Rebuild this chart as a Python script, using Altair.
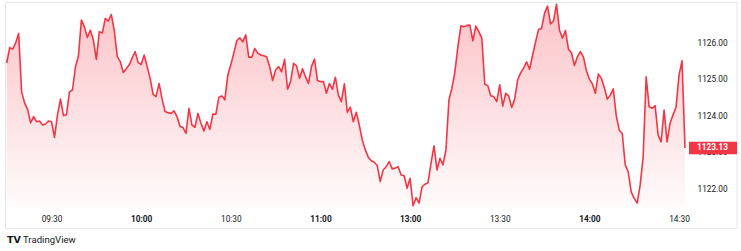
import altair as alt
import pandas as pd

# One-minute closes (09:15 .. 14:32, lunch break skipped)
prices = [
    1125.46, 1125.88, 1125.84, 1126.01, 1126.27, 1124.67, 1124.36, 1124.19, 1123.82, 1123.99,
    1123.85, 1123.87, 1123.76, 1123.79, 1123.87, 1123.85, 1123.42, 1124.04, 1124.47, 1124.02,
    1124.04, 1124.67, 1124.72, 1125.35, 1125.65, 1126.64, 1126.45, 1126.16, 1126.36, 1126.09,
    1125.56, 1126.32, 1126.28, 1126.68, 1126.61, 1126.79, 1126.35, 1125.64, 1125.50, 1125.20,
    1125.30, 1125.41, 1125.60, 1125.77, 1125.47, 1125.42, 1125.68, 1125.36, 1125.04, 1124.60,
    1124.54, 1124.90, 1124.47, 1124.13, 1124.10, 1124.08, 1124.15, 1123.99, 1123.72, 1123.69,
    1123.53, 1124.22, 1123.76, 1123.70, 1124.08, 1123.81, 1123.60, 1123.85, 1123.64, 1124.06,
    1124.06, 1124.52, 1124.56, 1124.45, 1125.13, 1125.41, 1125.73, 1126.07, 1126.15, 1126.04,
    1126.23, 1125.62, 1125.62, 1125.86, 1125.73, 1125.68, 1125.66, 1125.63, 1125.36, 1124.98,
    1125.27, 1125.36, 1125.22, 1125.56, 1124.74, 1124.95, 1125.45, 1125.38, 1125.04, 1125.30,
    1125.08, 1124.90, 1125.36, 1125.57, 1124.98, 1124.95, 1124.95, 1124.63, 1124.90, 1124.74,
    1125.07, 1124.58, 1124.40, 1124.89, 1124.11, 1124.25, 1123.85, 1124.11, 1123.76, 1123.35,
    1123.08, 1122.88, 1122.78, 1122.74, 1122.65, 1122.21, 1122.53, 1122.62, 1122.76, 1122.56,
    1122.58, 1122.62, 1122.39, 1122.37, 1122.03, 1122.30, 1121.55, 1121.77, 1121.62, 1122.07,
    1122.14, 1122.18, 1122.71, 1123.19, 1122.53, 1122.85, 1122.67, 1123.08, 1124.45, 1124.77,
    1125.22, 1125.91, 1126.48, 1126.45, 1126.49, 1126.50, 1126.07, 1126.47, 1126.32, 1126.14,
    1124.88, 1124.84, 1124.56, 1124.54, 1124.40, 1124.86, 1124.28, 1124.63, 1124.56, 1124.24,
    1124.47, 1125.00, 1125.19, 1125.32, 1125.49, 1125.29, 1125.68, 1126.04, 1126.38, 1126.41,
    1126.82, 1127.02, 1126.53, 1126.61, 1127.07, 1126.36, 1126.14, 1126.35, 1125.84, 1125.74,
    1125.39, 1125.63, 1125.77, 1125.63, 1125.25, 1125.02, 1124.89, 1124.63, 1125.16, 1125.04,
    1124.78, 1124.47, 1124.58, 1124.75, 1124.01, 1123.62, 1123.53, 1122.67, 1122.48, 1121.93,
    1121.75, 1121.62, 1122.12, 1122.89, 1125.08, 1124.26, 1124.22, 1124.29, 1123.49, 1123.30,
    1124.17, 1123.30, 1123.81, 1124.04, 1124.25, 1125.13, 1125.52, 1123.13,
]

tick_idx = [15, 45, 75, 105, 135, 165, 195, 225]
tick_labels = ["09:30", "10:00", "10:30", "11:00", "13:00", "13:30", "14:00", "14:30"]
bold_idx = [45, 105, 135, 195]
price_ticks = [1122, 1123, 1124, 1125, 1126]
last_price = 1123.13
last_label = "1123.13"
brand = "TradingView"

df = pd.DataFrame({"idx": list(range(len(prices))), "price": prices})

W, H = 680, 204
x_dom = [-0.234, 227.335]
y_dom = [1121.515, 1127.104]
RED = "#F23645"
TXT = "#131722"
FONT = "Roboto"

xs = alt.Scale(domain=x_dom, nice=False, zero=False)
ys = alt.Scale(domain=y_dom, nice=False, zero=False)

label_expr = ("[" + ",".join(f"'{t}'" for t in tick_labels) + "][indexof(["
              + ",".join(str(v) for v in tick_idx) + "], datum.value)]")
bold_test = "indexof([" + ",".join(str(v) for v in bold_idx) + "], datum.value) >= 0"

x_axis = alt.Axis(values=tick_idx, labelExpr=label_expr, grid=False, ticks=False,
                  domain=False, labelPadding=7, labelFontSize=8.3, labelColor=TXT,
                  labelFont=FONT, labelFlush=False, labelOverlap=False, title=None,
                  labelFontWeight={"condition": {"test": bold_test, "value": "bold"},
                                   "value": "normal"})
y_axis = alt.Axis(orient="right", values=price_ticks, format=".2f", grid=False,
                  ticks=False, domain=False, labelPadding=11, labelFontSize=8.3,
                  labelColor=TXT, labelFont=FONT, title=None)

gradient = alt.Gradient(
    gradient="linear",
    stops=[alt.GradientStop(color="rgba(242,54,69,0.30)", offset=0),
           alt.GradientStop(color="rgba(242,54,69,0.02)", offset=1)],
    x1=0, x2=0, y1=0, y2=1,
)

base = alt.Chart(df)
area = base.mark_area(fill=gradient, line=False).encode(
    x=alt.X("idx:Q", scale=xs, axis=x_axis),
    y=alt.Y("price:Q", scale=ys, axis=y_axis),
    y2=alt.datum(y_dom[0]),
)
line = base.mark_line(color=RED, strokeWidth=1.6, strokeJoin="round").encode(
    x=alt.X("idx:Q", scale=xs),
    y=alt.Y("price:Q", scale=ys),
)

one = pd.DataFrame({"v": [last_price]})
frame = alt.Chart(one).mark_rect(fillOpacity=0, stroke="#e3e6ee", strokeWidth=1).encode(
    x=alt.value(-0.5), x2=alt.value(731), y=alt.value(-0.5), y2=alt.value(225.5)
)
tag = alt.Chart(one).mark_rect(color=RED).encode(
    x=alt.value(683), x2=alt.value(731),
    y=alt.datum(last_price + 0.17, scale=ys), y2=alt.datum(last_price - 0.17),
)
tag_text = alt.Chart(one).mark_text(
    color="white", fontSize=8.3, fontWeight="bold", font=FONT, align="left", baseline="middle"
).encode(
    x=alt.value(691), y=alt.datum(last_price, scale=ys), text=alt.value(last_label)
)
logo = alt.Chart(one).mark_text(
    color=TXT, fontSize=9.5, fontWeight="bold", font="DejaVu Sans", align="left",
    baseline="middle"
).encode(x=alt.value(1), y=alt.value(237), text=alt.value("TV"))
brand_text = alt.Chart(one).mark_text(
    color=TXT, fontSize=9.6, font=FONT, align="left", baseline="middle"
).encode(x=alt.value(17), y=alt.value(237), text=alt.value(brand))

chart = alt.layer(area, line, frame, tag, tag_text, logo, brand_text).properties(
    width=W, height=H,
    padding={"left": 6, "top": 3, "right": 55, "bottom": 44},
    autosize=alt.AutoSizeParams(type="none"),
    background="white",
).configure_view(stroke=None)

chart.save("out.html", embed_options={"renderer": "svg", "actions": False})
